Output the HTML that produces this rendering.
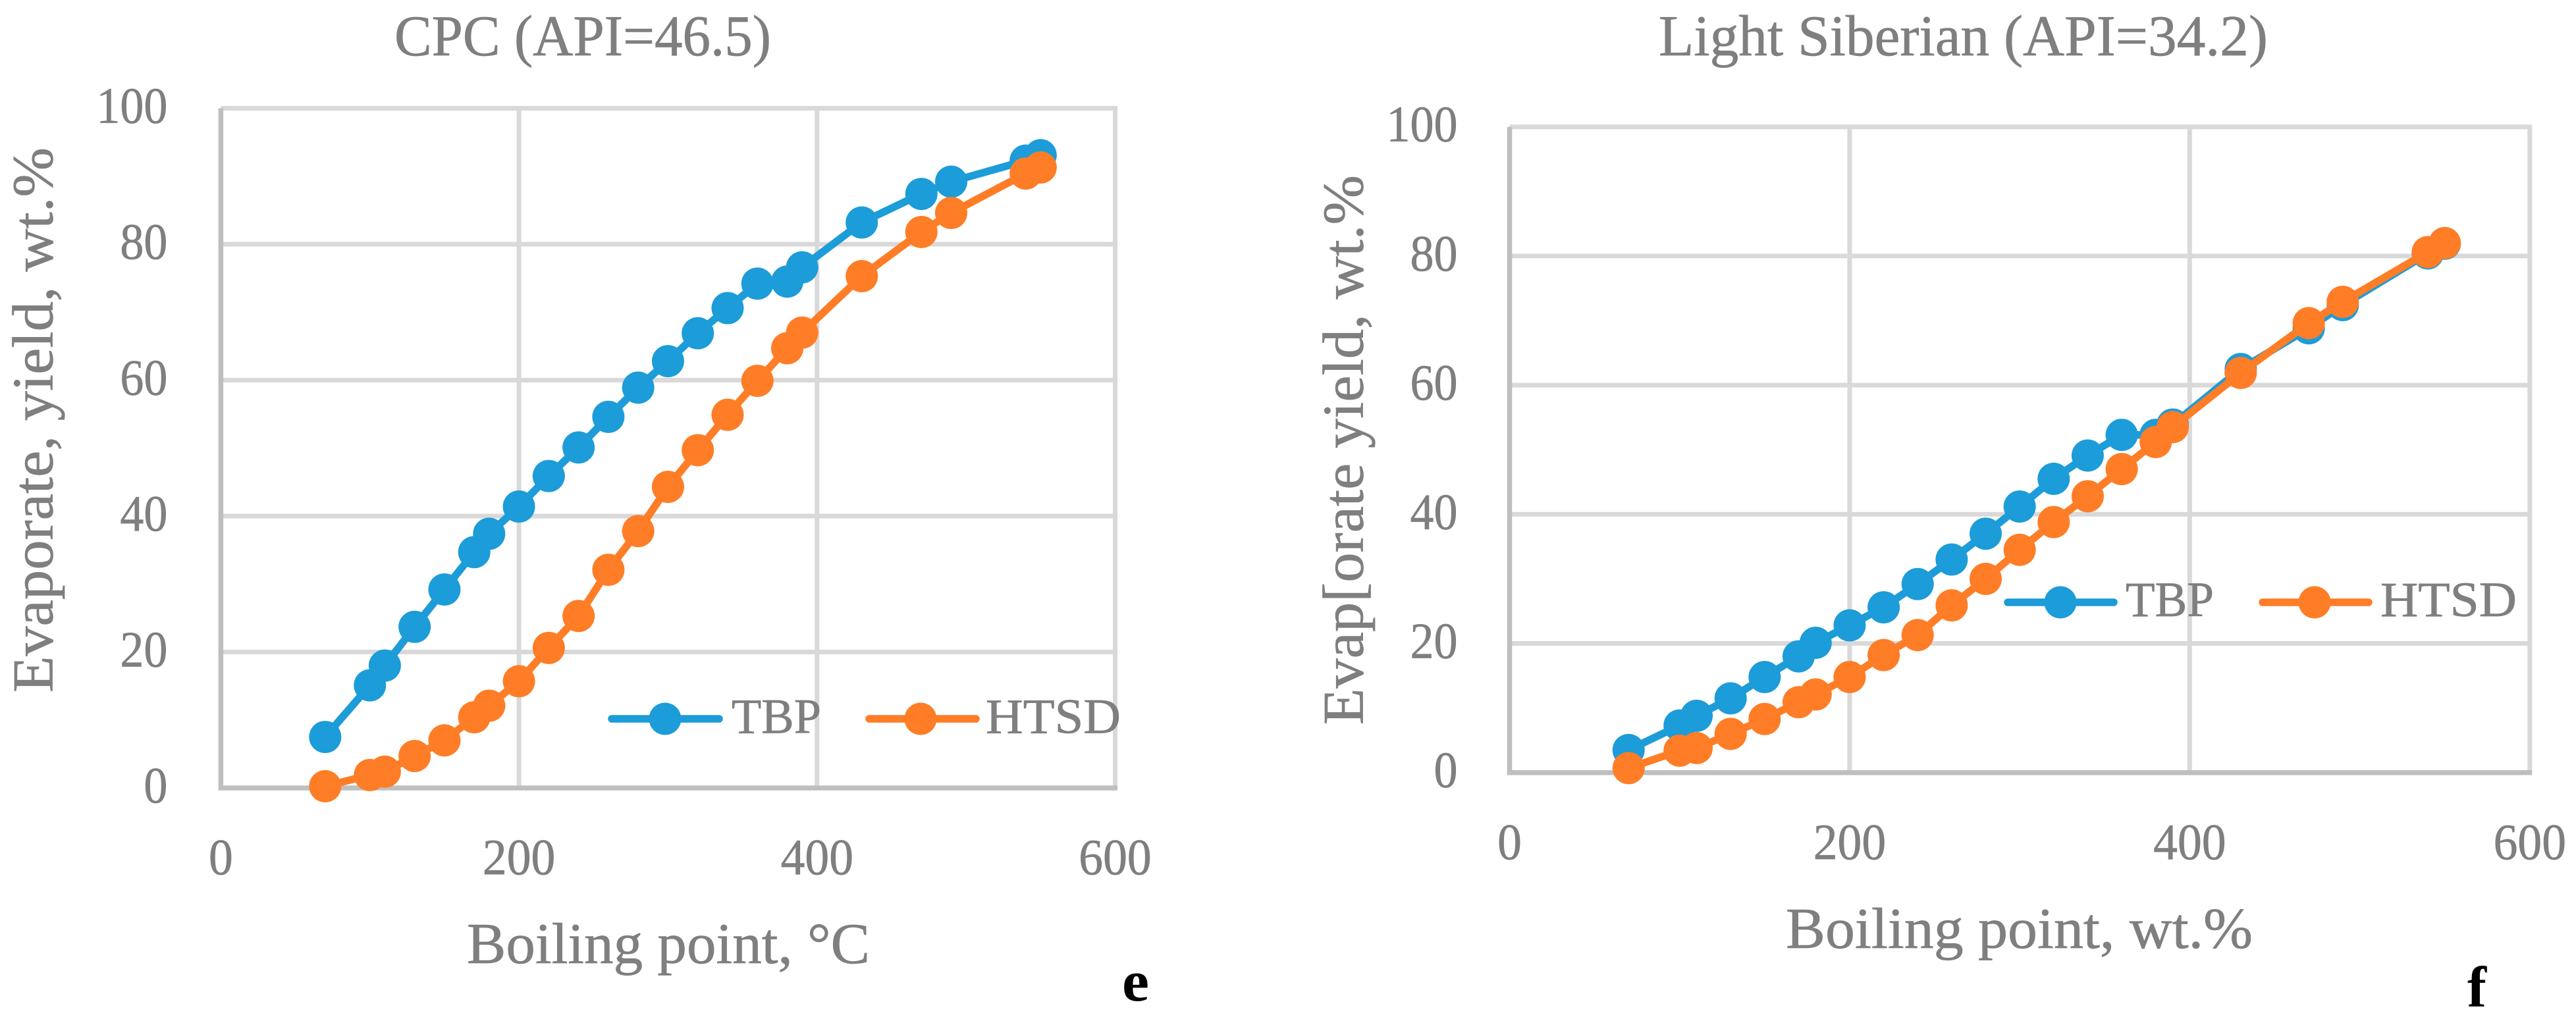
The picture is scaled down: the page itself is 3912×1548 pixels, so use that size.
<!DOCTYPE html>
<html lang="en">
<head>
<meta charset="utf-8">
<title>Evaporate yield vs boiling point: CPC and Light Siberian</title>
<style>
html,body{margin:0;padding:0;background:#fff;}
body{width:3912px;height:1548px;overflow:hidden;}
svg{display:block;}
text{font-family:"Liberation Serif","DejaVu Serif",serif;fill:#7f7f7f;stroke:#7f7f7f;stroke-width:0.7px;}
</style>
</head>
<body>
<svg id="figure" xmlns="http://www.w3.org/2000/svg" width="3912" height="1548" viewBox="0 0 3912 1548">
  <rect x="0" y="0" width="3912" height="1548" fill="#ffffff"/>

  <g id="chart-e"></g>
  <g id="chart-f"></g>

  <text x="599" y="84" font-size="88" textLength="572" lengthAdjust="spacingAndGlyphs">CPC (API=46.5)</text>
  <text x="709" y="1463" font-size="88" textLength="612" lengthAdjust="spacingAndGlyphs">Boiling point, °C</text>
  <text transform="translate(79.5,1052) rotate(-90)" font-size="88" textLength="828" lengthAdjust="spacingAndGlyphs">Evaporate, yield, wt.%</text>
  <text x="1704" y="1520" font-size="88" font-weight="bold" style="fill:#000;stroke:none" textLength="41" lengthAdjust="spacingAndGlyphs">e</text>
  <text x="1111" y="1113.5" font-size="75" textLength="136" lengthAdjust="spacingAndGlyphs">TBP</text>
  <text x="1497" y="1113.5" font-size="75" textLength="205" lengthAdjust="spacingAndGlyphs">HTSD</text>

  <text x="2519" y="84" font-size="88" textLength="925" lengthAdjust="spacingAndGlyphs">Light Siberian (API=34.2)</text>
  <text x="2712" y="1440" font-size="88" textLength="709" lengthAdjust="spacingAndGlyphs">Boiling point, wt.%</text>
  <text transform="translate(2069.5,1101) rotate(-90)" font-size="88" textLength="835" lengthAdjust="spacingAndGlyphs">Evap[orate yield, wt.%</text>
  <text x="3747" y="1529" font-size="88" font-weight="bold" style="fill:#000;stroke:none" textLength="29" lengthAdjust="spacingAndGlyphs">f</text>
  <text x="3228" y="936" font-size="75" textLength="134" lengthAdjust="spacingAndGlyphs">TBP</text>
  <text x="3615" y="936" font-size="75" textLength="207" lengthAdjust="spacingAndGlyphs">HTSD</text>
</svg>

<script>
const boilingPoints = [70,100,110,130,150,170,180,200,220,240,260,280,300,320,340,360,380,390,430,470,490,540,550];

const cpcTbp  = [7.5,15.1,18.0,23.7,29.2,34.7,37.4,41.4,45.9,50.1,54.6,58.9,62.8,66.9,70.6,74.2,74.5,76.6,83.2,87.4,89.2,92.3,93.1];
const cpcHtsd = [0.25,1.9,2.4,4.7,7.0,10.4,12.1,15.7,20.6,25.3,32.1,37.8,44.3,49.7,54.9,59.9,64.7,67.0,75.3,81.8,84.6,90.4,91.3];

const sibTbp  = [3.5,7.3,8.8,11.5,14.8,18.0,20.1,22.8,25.6,29.2,33.0,37.0,41.2,45.5,49.1,52.3,52.3,53.9,62.5,68.8,72.4,80.4,81.9];
const sibHtsd = [0.7,3.4,3.8,6.0,8.3,10.9,12.1,14.8,18.2,21.3,25.9,30.0,34.5,38.8,42.8,47.0,51.2,53.5,61.9,69.6,72.9,80.6,82.0];

const xTickValues = [0,200,400,600];
const yTickValues = [0,20,40,60,80,100];

const SVG_NS = 'http://www.w3.org/2000/svg';
const BLUE = '#1c9cd8';
const ORANGE = '#fe7d26';
const GRID = '#d9d9d9';
const AXIS = '#bfbfbf';

function make(parent, tag, attrs) {
  const el = document.createElementNS(SVG_NS, tag);
  for (const k in attrs) el.setAttribute(k, attrs[k]);
  parent.appendChild(el);
  return el;
}

function drawSeries(group, label, color, values, xScale, yScale) {
  const pts = values.map((v, i) => xScale(boilingPoints[i]) + ',' + yScale(v)).join(' ');
  const line = make(group, 'polyline', {points: pts, fill: 'none', stroke: color, 'stroke-width': 11.5, 'stroke-linejoin': 'round', 'stroke-linecap': 'round'});
  
  
  values.forEach((v, i) => {
    const dot = make(group, 'circle', {cx: xScale(boilingPoints[i]), cy: yScale(v), r: 24.5, fill: color});
    
    
  });
}

function drawLegendKey(group, label, color, x1, x2, cx, y) {
  const line = make(group, 'line', {x1: x1, x2: x2, y1: y, y2: y, stroke: color, 'stroke-width': 11.5, 'stroke-linecap': 'round'});
  
  
  const dot = make(group, 'circle', {cx: cx, cy: y, r: 24.5, fill: color});
  
  
}

function drawChart(id, frame, tbp, htsd, legend) {
  const group = document.getElementById(id);
  const xScale = v => frame.left + (frame.right - frame.left) * v / 600;
  const yScale = v => frame.bottom + (frame.top - frame.bottom) * v / 100;

  yTickValues.forEach(v => {
    if (v === 0) return;
    const g = make(group, 'line', {x1: frame.left, x2: frame.right + 3.5, y1: yScale(v), y2: yScale(v), stroke: GRID, 'stroke-width': 7});
    
    
  });
  xTickValues.forEach(v => {
    if (v === 0) return;
    const g = make(group, 'line', {x1: xScale(v), x2: xScale(v), y1: frame.top, y2: frame.bottom, stroke: GRID, 'stroke-width': 7});
    
    
  });

  const yAxis = make(group, 'line', {x1: frame.left, x2: frame.left, y1: frame.top, y2: frame.bottom + 3.5, stroke: AXIS, 'stroke-width': 7.5});
  
  
  const xAxis = make(group, 'line', {x1: frame.left - 3.5, x2: frame.right + 3.5, y1: frame.bottom, y2: frame.bottom, stroke: AXIS, 'stroke-width': 7.5});
  
  

  yTickValues.forEach(v => {
    const s = String(v);
    const t = make(group, 'text', {x: frame.left - frame.tickGap - 36 * s.length, y: yScale(v) + 22, 'font-size': 77, textLength: 36 * s.length, lengthAdjust: 'spacingAndGlyphs'});
    
    
    t.textContent = s;
  });
  xTickValues.forEach(v => {
    const s = String(v);
    const w = 36.8 * s.length;
    const t = make(group, 'text', {x: xScale(v) - w / 2, y: frame.xTickBaseline, 'font-size': 77, textLength: w, lengthAdjust: 'spacingAndGlyphs'});
    
    
    t.textContent = s;
  });

  drawSeries(group, 'tbp', BLUE, tbp, xScale, yScale);
  drawSeries(group, 'htsd', ORANGE, htsd, xScale, yScale);

  drawLegendKey(group, 'tbp', BLUE, legend.tbp[0], legend.tbp[1], legend.tbp[2], legend.y);
  drawLegendKey(group, 'htsd', ORANGE, legend.htsd[0], legend.htsd[1], legend.htsd[2], legend.y);
}

drawChart('chart-e',
  {left: 335.4, right: 1693.5, top: 164.5, bottom: 1197, tickGap: 81, xTickBaseline: 1328},
  cpcTbp, cpcHtsd,
  {y: 1092, tbp: [929, 1092, 1010], htsd: [1320, 1482, 1398]});

drawChart('chart-f',
  {left: 2292.5, right: 3841.8, top: 192.7, bottom: 1173.7, tickGap: 79, xTickBaseline: 1305},
  sibTbp, sibHtsd,
  {y: 915, tbp: [3049, 3210, 3129], htsd: [3436, 3597, 3515]});
</script>
</body>
</html>
